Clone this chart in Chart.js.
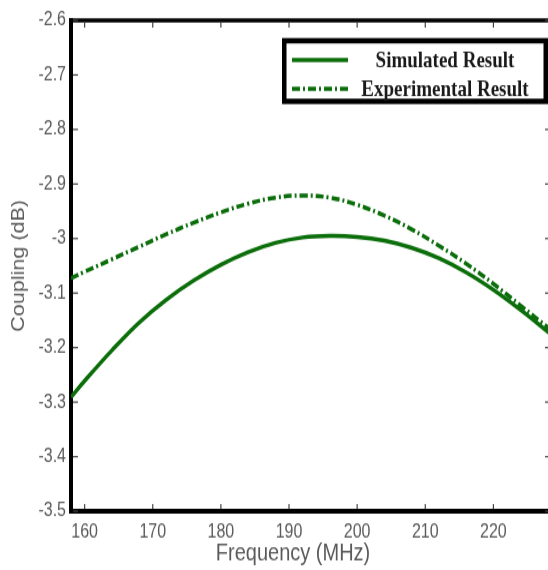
<!DOCTYPE html>
<html>
<head>
<meta charset="utf-8">
<script src="https://cdn.jsdelivr.net/npm/chart.js@4.4.1/dist/chart.umd.min.js"></script>
<style>
  html { margin:0; padding:0; background:#fff; overflow:hidden; }
  body { margin:0; padding:0; background:#fff; height:570px; }
  /* the reference looks stretched vertically, so draw short and scale up */
  #wrap { width:560px; height:475px; transform:scaleY(1.2); transform-origin:0 0; }
</style>
</head>
<body>
<div id="wrap"><canvas id="coupling" width="560" height="475"></canvas></div>
<script>
// values
const freqMHz   = [158, 160, 164, 168, 172, 176, 180, 184, 188, 192, 196, 200, 204, 208, 212, 216, 220, 224, 228.6];
const simulated = [-3.291, -3.261, -3.205, -3.154, -3.112, -3.077, -3.048, -3.025, -3.008, -2.998, -2.995, -2.997, -3.004, -3.017, -3.036, -3.062, -3.094, -3.131, -3.177];
const measured  = [-3.073, -3.061, -3.038, -3.015, -2.992, -2.971, -2.952, -2.936, -2.925, -2.921, -2.925, -2.938, -2.958, -2.983, -3.013, -3.046, -3.083, -3.123, -3.169];
const seriesNames = ['Simulated Result', 'Experimental Result'];
const xTicks = [160, 170, 180, 190, 200, 210, 220];
const xTitle = 'Frequency (MHz)';
const yTitle = 'Coupling (dB)';

const green = '#0b6e0b';
const grey = '#5a5a5a';

// top border, inward tick marks, x title and the boxed legend
const frame = {
  id: 'frame',
  afterDraw(chart){
    const { ctx, chartArea: a, scales: { x, y } } = chart;
    const line = (x1, y1, x2, y2) => { ctx.beginPath(); ctx.moveTo(x1, y1); ctx.lineTo(x2, y2); ctx.stroke(); };
    ctx.save();
    ctx.strokeStyle = '#000'; ctx.lineWidth = 3.5;
    line(a.left - 2, a.top, a.right, a.top);

    ctx.strokeStyle = '#444'; ctx.lineWidth = 1.2;
    y.ticks.forEach(t => {
      const py = y.getPixelForValue(t.value);
      line(a.left + 2, py, a.left + 7, py);
      line(a.right - 7, py, a.right, py);
    });
    x.ticks.forEach(t => {
      const px = x.getPixelForValue(t.value);
      line(px, a.bottom - 2, px, a.bottom - 6);
      line(px, a.top + 2, px, a.top + 6);
    });

    ctx.fillStyle = grey; ctx.font = '20px "Liberation Sans", Arial, sans-serif';
    ctx.textAlign = 'center'; ctx.textBaseline = 'middle';
    ctx.fillText(xTitle, 293, 461);

    // legend box
    ctx.fillStyle = '#fff'; ctx.fillRect(282, 31.7, 266, 55);
    ctx.strokeStyle = '#000'; ctx.lineWidth = 4.5;
    ctx.strokeRect(284.25, 33.95, 261.5, 50.5);
    const rows = [50, 74];
    chart.data.datasets.forEach((ds, i) => {
      ctx.strokeStyle = ds.borderColor; ctx.lineWidth = ds.borderWidth;
      ctx.setLineDash(ds.borderDash || []);
      line(292, rows[i], 348, rows[i]);
      ctx.setLineDash([]);
      ctx.fillStyle = '#1a1a1a'; ctx.font = 'bold 19px "Liberation Serif", "Times New Roman", serif';
      ctx.fillText(ds.label, 445, rows[i] + 1);
    });
    ctx.restore();
  }
};

new Chart(document.getElementById('coupling'), {
  type: 'line',
  data: {
    datasets: [
      { label: seriesNames[0], data: freqMHz.map((f, i) => ({ x: f, y: simulated[i] })),
        borderColor: green, borderWidth: 3.5, pointRadius: 0, tension: 0.4, fill: false },
      { label: seriesNames[1], data: freqMHz.map((f, i) => ({ x: f, y: measured[i] })),
        borderColor: green, borderWidth: 3.5, borderDash: [8, 3, 2, 3], pointRadius: 0, tension: 0.4, fill: false }
    ]
  },
  options: {
    responsive: false,
    animation: false,
    devicePixelRatio: 1,
    layout: { padding: { top: 17, right: 8, left: 0, bottom: 0 } },
    plugins: { legend: { display: false }, tooltip: { enabled: false } },
    scales: {
      x: {
        type: 'linear', min: 158, max: 228.6,
        afterBuildTicks: s => { s.ticks = xTicks.map(v => ({ value: v })); },
        afterFit: s => { s.height = 49; },
        grid: { display: false, drawTicks: false },
        border: { display: true, color: '#000', width: 4 },
        ticks: { color: grey, padding: 8, font: { family: '"Liberation Sans", Arial, sans-serif', size: 16 } }
      },
      y: {
        min: -3.5, max: -2.6,
        afterFit: s => { s.width = 71; },
        grid: { display: false, drawTicks: false },
        border: { display: true, color: '#000', width: 4 },
        ticks: { stepSize: 0.1, color: grey, padding: 5,
          font: { family: '"Liberation Sans", Arial, sans-serif', size: 16 },
          callback: v => String(Math.round(v * 10) / 10) },
        title: { display: true, text: yTitle, color: grey, padding: { top: 8, bottom: 0 },
          font: { family: '"Liberation Sans", Arial, sans-serif', size: 18 } }
      }
    }
  },
  plugins: [frame]
});
</script>
</body>
</html>
